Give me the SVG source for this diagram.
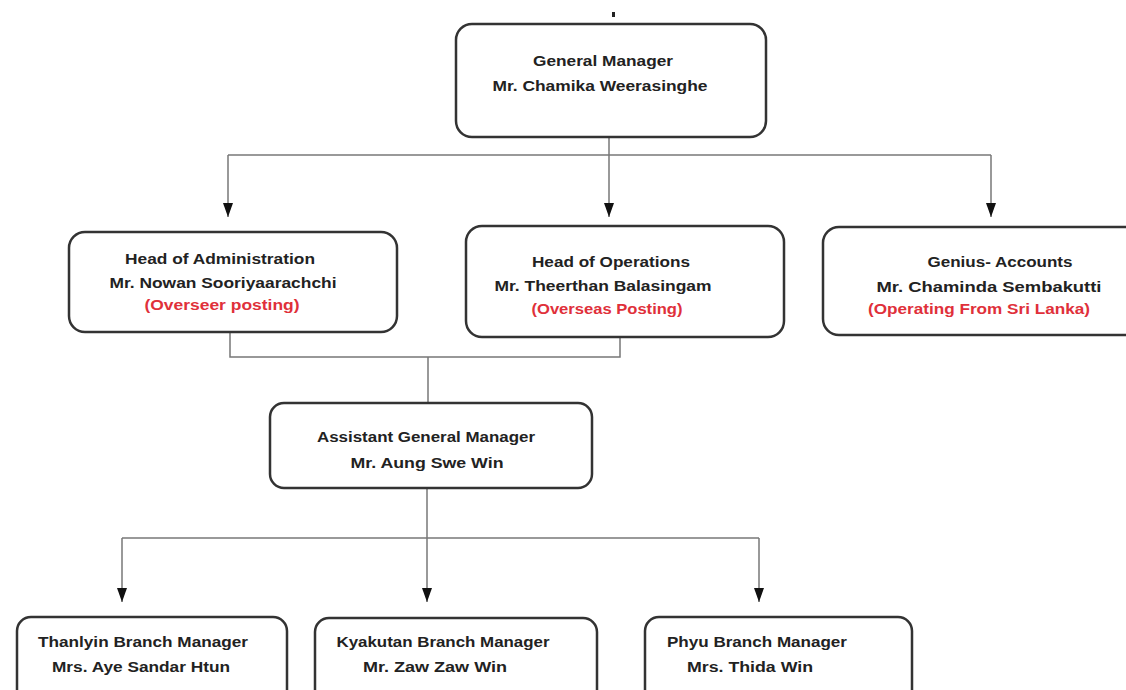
<svg xmlns="http://www.w3.org/2000/svg" width="1126" height="690" viewBox="0 0 1126 690">
<style>
.box{fill:#fff;stroke:#333;stroke-width:2.5}
.t{font-family:"Liberation Sans",Arial,sans-serif;font-weight:bold;font-size:14px;fill:#222;text-anchor:middle}
.r{fill:#e0303a}
.c{fill:none;stroke:#777;stroke-width:1.5}
</style>
<defs>
<marker id="ah" viewBox="0 0 14 10" refX="14" refY="5" markerWidth="14" markerHeight="10" markerUnits="userSpaceOnUse" orient="auto">
<path d="M0,0 L14,5 L0,10 Z" fill="#111"/>
</marker>
</defs>
<rect width="1126" height="690" fill="#fff"/>
<rect x="612" y="12" width="3" height="5" fill="#222"/>
<g id="connectors">
<path class="c" d="M609,137 V155"/>
<path class="c" d="M228,155 H991"/>
<path class="c" d="M228,155 V217" marker-end="url(#ah)"/>
<path class="c" d="M609,155 V217" marker-end="url(#ah)"/>
<path class="c" d="M991,155 V217" marker-end="url(#ah)"/>
<path class="c" d="M230,332 V357 H620 V337"/>
<path class="c" d="M428,357 V403"/>
<path class="c" d="M427,488 V602" marker-end="url(#ah)"/>
<path class="c" d="M122,538 H759"/>
<path class="c" d="M122,538 V602" marker-end="url(#ah)"/>
<path class="c" d="M759,538 V602" marker-end="url(#ah)"/>
</g>
<g id="gm">
<rect class="box" x="456" y="24" width="310" height="113" rx="16"/>
<text class="t" x="603" y="66" textLength="140" lengthAdjust="spacingAndGlyphs">General Manager</text>
<text class="t" x="600" y="91" textLength="215" lengthAdjust="spacingAndGlyphs">Mr. Chamika Weerasinghe</text>
</g>
<g id="admin">
<rect class="box" x="69" y="232" width="328" height="100" rx="16"/>
<text class="t" x="220" y="264" textLength="190" lengthAdjust="spacingAndGlyphs">Head of Administration</text>
<text class="t" x="223" y="288" textLength="227" lengthAdjust="spacingAndGlyphs">Mr. Nowan Sooriyaarachchi</text>
<text class="t r" x="222" y="310" textLength="155" lengthAdjust="spacingAndGlyphs">(Overseer posting)</text>
</g>
<g id="ops">
<rect class="box" x="466" y="226" width="318" height="111" rx="16"/>
<text class="t" x="611" y="267" textLength="158" lengthAdjust="spacingAndGlyphs">Head of Operations</text>
<text class="t" x="603" y="291" textLength="217" lengthAdjust="spacingAndGlyphs">Mr. Theerthan Balasingam</text>
<text class="t r" x="607" y="314" textLength="151" lengthAdjust="spacingAndGlyphs">(Overseas Posting)</text>
</g>
<g id="accounts">
<rect class="box" x="823" y="227" width="320" height="108" rx="16"/>
<text class="t" x="1000" y="267" textLength="145" lengthAdjust="spacingAndGlyphs">Genius- Accounts</text>
<text class="t" x="989" y="292" textLength="225" lengthAdjust="spacingAndGlyphs">Mr. Chaminda Sembakutti</text>
<text class="t r" x="979" y="314" textLength="222" lengthAdjust="spacingAndGlyphs">(Operating From Sri Lanka)</text>
</g>
<g id="agm">
<rect class="box" x="270" y="403" width="322" height="85" rx="14"/>
<text class="t" x="426" y="442" textLength="218" lengthAdjust="spacingAndGlyphs">Assistant General Manager</text>
<text class="t" x="427" y="468" textLength="153" lengthAdjust="spacingAndGlyphs">Mr. Aung Swe Win</text>
</g>
<g id="thanlyin">
<rect class="box" x="17" y="617" width="270" height="90" rx="14"/>
<text class="t" x="143" y="647" textLength="210" lengthAdjust="spacingAndGlyphs">Thanlyin Branch Manager</text>
<text class="t" x="141" y="672" textLength="178" lengthAdjust="spacingAndGlyphs">Mrs. Aye Sandar Htun</text>
</g>
<g id="kyakutan">
<rect class="box" x="315" y="618" width="282" height="90" rx="14"/>
<text class="t" x="443" y="647" textLength="213" lengthAdjust="spacingAndGlyphs">Kyakutan Branch Manager</text>
<text class="t" x="435" y="672" textLength="144" lengthAdjust="spacingAndGlyphs">Mr. Zaw Zaw Win</text>
</g>
<g id="phyu">
<rect class="box" x="645" y="617" width="267" height="90" rx="14"/>
<text class="t" x="757" y="647" textLength="180" lengthAdjust="spacingAndGlyphs">Phyu Branch Manager</text>
<text class="t" x="750" y="672" textLength="126" lengthAdjust="spacingAndGlyphs">Mrs. Thida Win</text>
</g>
</svg>
